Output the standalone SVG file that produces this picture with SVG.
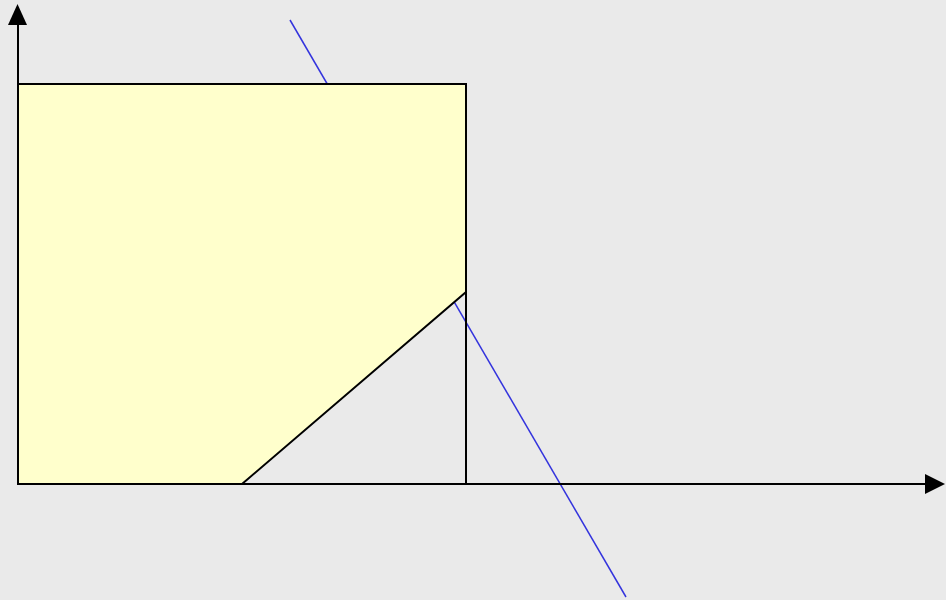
<svg xmlns="http://www.w3.org/2000/svg" width="946" height="600" viewBox="0 0 946 600">
<style>
.ax{stroke:#000;stroke-width:2;fill:none}
.blue{stroke:#3333dd;stroke-width:1.5;fill:none}
.region{fill:#ffffcc;stroke:#000;stroke-width:2;stroke-linejoin:miter}
</style>
<rect x="0" y="0" width="946" height="600" fill="#eaeaea"/>
<g id="connectors">
<line class="blue" x1="290" y1="20" x2="626" y2="597"/>
</g>
<g id="feasible-region">
<polygon class="region" points="18,84 466,84 466,292 242,484 18,484"/>
</g>
<g id="cut">
<line class="ax" x1="466" y1="292" x2="466" y2="484"/>
</g>
<g id="axes">
<line class="ax" x1="18" y1="484" x2="926" y2="484"/>
<polygon points="925,474 945,484 925,494" fill="#000"/>
<line class="ax" x1="18" y1="484" x2="18" y2="24"/>
<polygon points="8,25 17.5,4 27,25" fill="#000"/>
</g>
</svg>
